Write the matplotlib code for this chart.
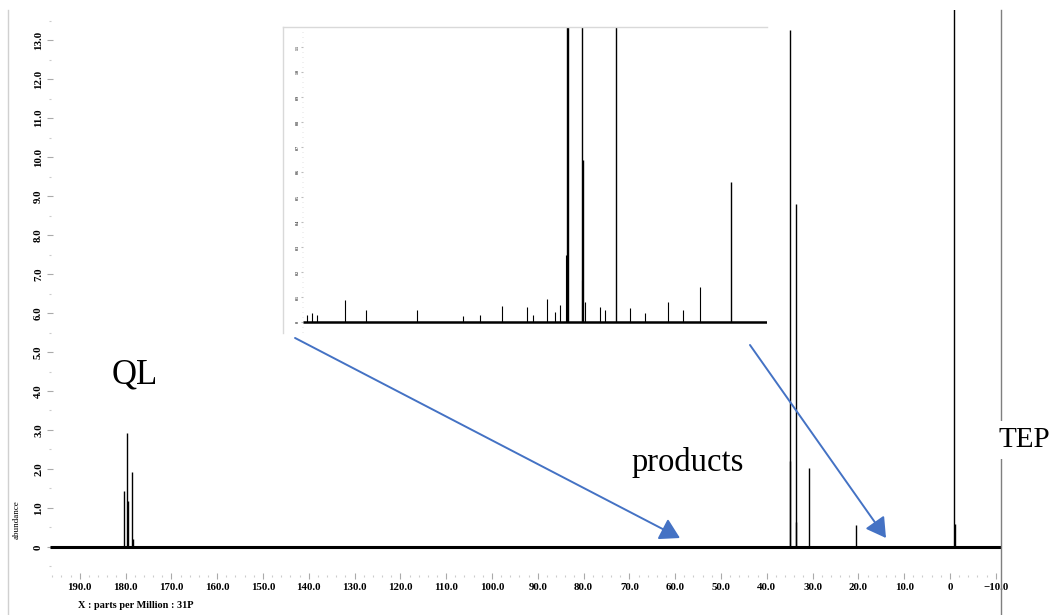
"""
31P NMR spectrum with an expanded inset of the product region (QL / products / TEP).
Writes out.png (1049x615).
"""

import matplotlib.pyplot as plt
from matplotlib.lines import Line2D
from matplotlib.ticker import FixedLocator, MultipleLocator, FuncFormatter

# ---- data ----
# main spectrum: peak positions (ppm) and heights (abundance)
main_ppm = [180.35, 179.7, 179.55, 178.6, 178.4,
            35.0, 34.95, 33.7, 33.6, 30.7, 20.6,
            -0.9, -1.0]
main_height = [1.44, 2.92, 1.18, 1.92, 0.20,
               13.26, 2.20, 8.80, 0.65, 2.03, 0.56,
               15.0, 0.60]          # TEP runs off the top of the plot

# extra small peaks only visible in the expanded inset (58-17 ppm)
inset_ppm = [57.83, 57.39, 56.95, 54.49, 52.65, 48.17, 44.13, 42.64, 40.71,
             38.51, 37.99, 36.76, 36.06, 35.62, 35.05, 33.65, 33.42, 32.10,
             31.67, 29.47, 28.15, 26.13, 24.82, 23.33]
inset_height = [0.028, 0.036, 0.030, 0.088, 0.048, 0.048, 0.024, 0.030, 0.064,
                0.060, 0.028, 0.092, 0.040, 0.068, 0.268, 0.168, 0.080, 0.060,
                0.050, 0.056, 0.036, 0.080, 0.048, 0.140]

x_ticks = list(range(-10, 200, 10))
y_ticks = list(range(0, 14))
inset_y_ticks = [i / 10 for i in range(0, 12)]

BLUE = "#4472C4"
W, H = 1049, 615


def box(x0, y0, x1, y1):
    """pixel box (top-left origin) -> figure fraction rect"""
    return [x0 / W, 1 - y1 / H, (x1 - x0) / W, (y1 - y0) / H]


def fmt(v, _pos=None):
    if abs(v) < 1e-9:
        return "0"
    s = f"{abs(v):.1f}"
    return ("\u2212" + s) if v < 0 else s


def main() -> None:
    plt.rcParams["font.family"] = ["Liberation Serif", "DejaVu Serif"]

    fig = plt.figure(figsize=(W / 100, H / 100), dpi=100)

    # ---- main spectrum ----
    ax = fig.add_axes(box(50, 10, 1001, 576))
    xl = (196.5, -11.14)
    ax.set_xlim(*xl)
    ax.set_ylim(-0.744, 13.77)
    ax.plot(xl, [0, 0], color="black", lw=2.2, solid_capstyle="butt")
    ax.vlines(main_ppm, 0, main_height, color="black", lw=1.0)

    for s in ax.spines.values():
        s.set_visible(False)
    ax.xaxis.set_major_locator(FixedLocator(x_ticks))
    ax.xaxis.set_minor_locator(MultipleLocator(2))
    ax.yaxis.set_major_locator(FixedLocator(y_ticks))
    ax.yaxis.set_minor_locator(MultipleLocator(0.5))
    ax.xaxis.set_major_formatter(FuncFormatter(fmt))
    ax.yaxis.set_major_formatter(FuncFormatter(fmt))
    ax.tick_params(which="major", direction="inout", length=4, width=0.8,
                   color="#aaaaaa", labelsize=7.8, pad=3)
    ax.tick_params(which="minor", direction="inout", length=1.5, width=0.8,
                   color="#cccccc")
    for lab in ax.get_xticklabels() + ax.get_yticklabels():
        lab.set_fontweight("bold")
    for lab in ax.get_yticklabels():
        lab.set_rotation(90)
        lab.set_va("center")

    # ---- inset: expanded product region ----
    ins = fig.add_axes(box(303, 27, 767, 333))
    ixl = (58.18, 17.44)
    ins.set_xlim(*ixl)
    ins.set_ylim(-0.044, 1.18)
    ins.plot(ixl, [0, 0], color="black", lw=1.8, solid_capstyle="butt")
    sel = [(p, h) for p, h in zip(main_ppm, main_height) if ixl[1] < p < ixl[0]]
    ins.vlines([p for p, _ in sel], 0, [h for _, h in sel], color="black", lw=1.0)
    ins.vlines(inset_ppm, 0, inset_height, color="black", lw=0.8)
    for s in ins.spines.values():
        s.set_visible(False)
    ins.set_xticks([])
    ins.yaxis.set_major_locator(FixedLocator(inset_y_ticks))
    ins.yaxis.set_minor_locator(MultipleLocator(0.02))
    ins.yaxis.set_major_formatter(FuncFormatter(fmt))
    ins.tick_params(axis="y", which="major", direction="out", length=1.5,
                    color="#bbbbbb", labelsize=3, pad=1, labelcolor="#333333")
    ins.tick_params(axis="y", which="minor", direction="out", length=0.8,
                    color="#dddddd")
    for lab in ins.get_yticklabels():
        lab.set_rotation(90)
        lab.set_va("center")
        lab.set_fontweight("bold")

    # inset frame (top and left only)
    fig.add_artist(Line2D([283 / W, 767 / W], [1 - 27 / H, 1 - 27 / H],
                          color="#d9d9d9", lw=1))
    fig.add_artist(Line2D([283 / W, 283 / W], [1 - 27 / H, 1 - 333 / H],
                          color="#d9d9d9", lw=1))

    # page separators
    fig.add_artist(Line2D([8 / W, 8 / W], [1 - 10 / H, 0], color="#d0d0d0", lw=1))
    fig.add_artist(Line2D([1001 / W, 1001 / W], [1 - 10 / H, 0],
                          color="#7f7f7f", lw=1))

    # arrows from the inset to the expanded region
    arrow = dict(arrowstyle="-|>,head_length=0.6,head_width=0.35", color=BLUE,
                 lw=1.4, mutation_scale=20, shrinkA=0, shrinkB=0)
    ax.annotate("", xy=(58.95, 0.23), xytext=(143.0, 5.36),
                arrowprops=arrow, zorder=10)
    ax.annotate("", xy=(13.97, 0.23), xytext=(43.67, 5.18),
                arrowprops=arrow, zorder=10)

    # labels
    fig.text(135 / W, 1 - 375 / H, "QL", fontsize=25, ha="center", va="center")
    fig.text(688 / W, 1 - 463 / H, "products", fontsize=23.5, ha="center",
             va="center")
    fig.text(1024 / W, 1 - 440 / H, "TEP", fontsize=21, ha="center",
             va="center", bbox=dict(facecolor="white", edgecolor="none", pad=4))
    fig.text(17 / W, 1 - 520 / H, "abundance", fontsize=6.5, rotation=90,
             ha="center", va="center")
    fig.text(78 / W, 1 - 606 / H, "X : parts per Million : 31P", fontsize=7.4,
             fontweight="bold", ha="left", va="center")

    fig.savefig("out.png", dpi=100)
    plt.close(fig)


if __name__ == "__main__":
    main()
